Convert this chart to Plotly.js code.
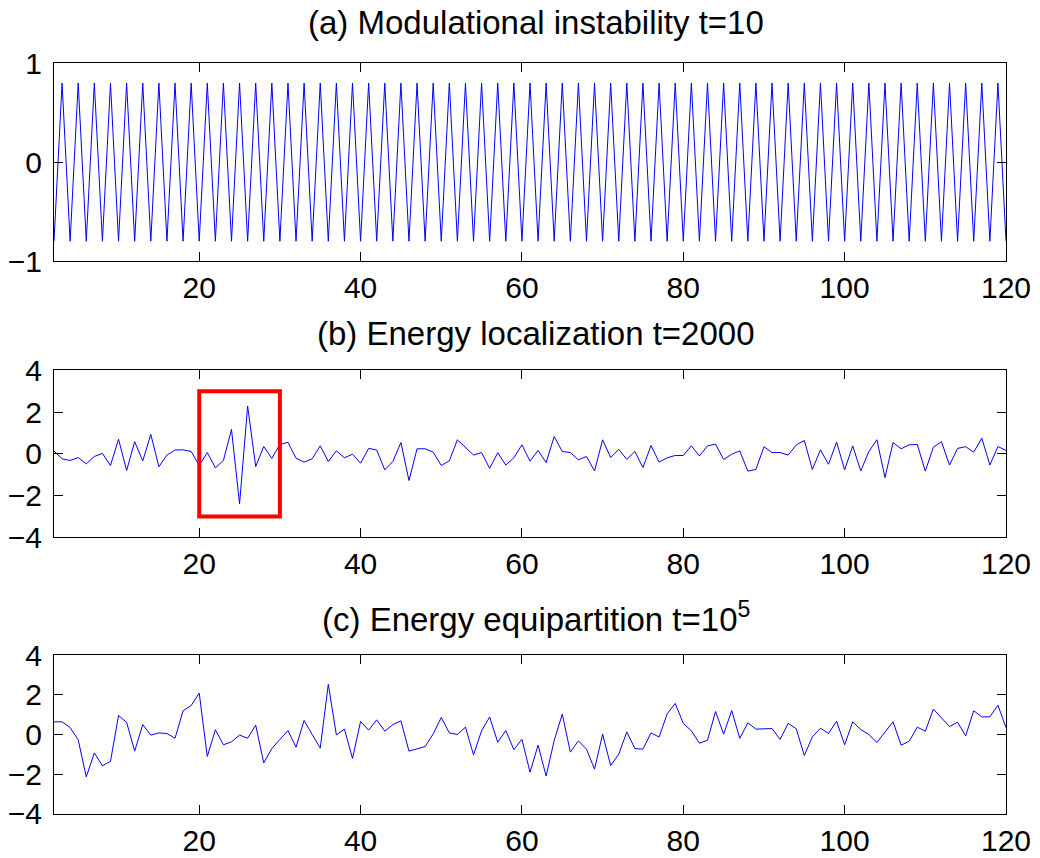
<!DOCTYPE html>
<html>
<head>
<meta charset="utf-8">
<script src="https://cdn.plot.ly/plotly-3.0.1.min.js"></script>
<style>html,body{margin:0;padding:0;background:#fff;}#chart{width:1040px;height:858px;}</style>
</head>
<body>
<div id="chart"></div>
<script>
// lattice site index (first site shown is 2, last is 120)
var sites = [];
for (var n = 2; n <= 120; n++) sites.push(n);

// (a) Modulational instability, t=10
var panelA = [
 -0.8,0.8,-0.8,0.8,-0.8,0.8,-0.8,0.8,-0.8,0.8,
 -0.8,0.8,-0.8,0.8,-0.8,0.8,-0.8,0.8,-0.8,0.8,
 -0.8,0.8,-0.8,0.8,-0.8,0.8,-0.8,0.8,-0.8,0.8,
 -0.8,0.8,-0.8,0.8,-0.8,0.8,-0.8,0.8,-0.8,0.8,
 -0.8,0.8,-0.8,0.8,-0.8,0.8,-0.8,0.8,-0.8,0.8,
 -0.8,0.8,-0.8,0.8,-0.8,0.8,-0.8,0.8,-0.8,0.8,
 -0.8,0.8,-0.8,0.8,-0.8,0.8,-0.8,0.8,-0.8,0.8,
 -0.8,0.8,-0.8,0.8,-0.8,0.8,-0.8,0.8,-0.8,0.8,
 -0.8,0.8,-0.8,0.8,-0.8,0.8,-0.8,0.8,-0.8,0.8,
 -0.8,0.8,-0.8,0.8,-0.8,0.8,-0.8,0.8,-0.8,0.8,
 -0.8,0.8,-0.8,0.8,-0.8,0.8,-0.8,0.8,-0.8,0.8,
 -0.8,0.8,-0.8,0.8,-0.8,0.8,-0.8,0.8,-0.8
];

// (b) Energy localization, t=2000
var panelB = [
 0.13,-0.24,-0.32,-0.18,-0.48,-0.13,0.02,-0.56,0.7,-0.8,
 0.58,-0.34,0.93,-0.62,-0.06,0.18,0.19,0.11,-0.56,0.06,
 -0.67,-0.32,1.17,-2.4,2.29,-0.61,0.35,-0.22,0.45,0.55,
 -0.21,-0.4,-0.24,0.38,-0.37,0.14,-0.19,-0.02,-0.45,0.26,
 0.18,-0.77,-0.37,0.54,-1.28,0.24,0.24,0.08,-0.56,-0.34,
 0.67,0.32,-0.06,0.06,-0.7,0.05,-0.54,-0.19,0.43,-0.35,
 0.16,-0.42,0.83,0.11,0.06,-0.29,-0.13,-0.82,0.67,-0.18,
 0.21,-0.27,0.11,-0.66,0.4,-0.4,-0.19,-0.08,-0.08,0.38,
 -0.1,0.38,0.46,-0.27,-0.02,0.14,-0.83,-0.75,0.34,0.06,
 0.06,-0.06,0.42,0.64,-0.75,0.19,-0.5,0.56,-0.77,0.38,
 -0.82,0.11,0.67,-1.14,0.54,0.24,0.43,0.45,-0.83,0.32,
 0.58,-0.54,0.26,0.34,0.08,0.75,-0.54,0.35,0.16
];

// (c) Energy equipartition, t=10^5
var panelC = [
 0.64,0.64,0.35,-0.27,-2.14,-0.93,-1.58,-1.36,0.96,0.61,
 -0.84,0.5,-0.03,0.08,0.05,-0.19,1.2,1.46,2.09,-1.11,
 0.24,-0.52,-0.37,-0.03,-0.19,0.47,-1.43,-0.71,-0.25,0.2,
 -0.64,0.71,0.0,-0.69,2.54,-0.02,0.27,-1.21,0.66,0.22,
 0.74,0.17,0.5,0.69,-0.84,-0.74,-0.61,0.03,0.86,0.08,
 0.0,0.37,-1.03,0.19,0.88,-0.39,0.2,-0.77,-0.24,-1.9,
 -0.54,-2.1,-0.3,1.03,-0.89,-0.32,-0.74,-1.75,0.02,-1.57,
 -0.99,0.13,-0.71,-0.74,0.08,-0.13,1.04,1.57,0.56,0.19,
 -0.44,-0.29,1.16,0.02,1.21,-0.19,0.59,0.27,0.29,0.3,
 -0.25,0.56,0.29,-1.06,-0.12,0.32,0.05,0.67,-0.52,0.64,
 0.25,0.0,-0.4,0.13,0.64,-0.54,-0.34,0.37,0.17,1.28,
 0.84,0.4,0.62,-0.07,1.2,0.89,0.89,1.48,0.35
];

var xTicks = [20, 40, 60, 80, 100, 120];
var yTicksA = [-1, 0, 1];
var yTicksBC = [-4, -2, 0, 2, 4];
var boxX = [20, 30];
var boxY = [-3, 3];
var titles = [
 "(a) Modulational instability t=10",
 "(b) Energy localization t=2000",
 "(c) Energy equipartition t=10<sup>5</sup>"
];

var H = 858;
function py(p) { return 1 - p / H; }

var FONT = "Liberation Sans, Arial, Helvetica, sans-serif";
var lineStyle = {color: "#0000ff", width: 1};

var traces = [
 {x: sites, y: panelA, xaxis: "x", yaxis: "y", type: "scatter", mode: "lines", line: lineStyle, hoverinfo: "skip"},
 {x: sites, y: panelB, xaxis: "x2", yaxis: "y2", type: "scatter", mode: "lines", line: lineStyle, hoverinfo: "skip"},
 {x: sites, y: panelC, xaxis: "x3", yaxis: "y3", type: "scatter", mode: "lines", line: lineStyle, hoverinfo: "skip"}
];

function xax(anchor) {
 return {
  anchor: anchor, range: [2, 120], tickvals: xTicks, ticks: "inside", ticklen: 9,
  tickcolor: "#000", showline: true, linecolor: "#000", linewidth: 1, mirror: "ticks",
  showgrid: false, zeroline: false, tickfont: {family: FONT, size: 30, color: "#000"},
  ticklabelstandoff: 0
 };
}
function yax(anchor, dom, range, vals) {
 return {
  anchor: anchor, domain: dom, range: range, tickvals: vals, ticks: "inside", ticklen: 9,
  tickcolor: "#000", showline: true, linecolor: "#000", linewidth: 1, mirror: "ticks",
  showgrid: false, zeroline: false, tickfont: {family: FONT, size: 30, color: "#000"},
  ticklabelstandoff: 5
 };
}

var layout = {
 width: 1040, height: 858,
 margin: {l: 54, r: 34, t: 0, b: 0},
 paper_bgcolor: "#fff", plot_bgcolor: "#fff",
 showlegend: false,
 xaxis: xax("y"),
 yaxis: yax("x", [py(261), py(63.3)], [-1, 1], yTicksA),
 xaxis2: xax("y2"),
 yaxis2: yax("x2", [py(537.3), py(370.3)], [-4, 4], yTicksBC),
 xaxis3: xax("y3"),
 yaxis3: yax("x3", [py(813.7), py(655.3)], [-4, 4], yTicksBC),
 shapes: [{
  type: "rect", xref: "x2", yref: "y2",
  x0: boxX[0], x1: boxX[1], y0: boxY[0], y1: boxY[1],
  line: {color: "#ff0000", width: 4}
 }],
 annotations: [
  {text: titles[0], xref: "paper", yref: "paper", x: 0.506, y: py(22), xanchor: "center", yanchor: "middle", showarrow: false, font: {family: FONT, size: 33, color: "#000"}},
  {text: titles[1], xref: "paper", yref: "paper", x: 0.506, y: py(333), xanchor: "center", yanchor: "middle", showarrow: false, font: {family: FONT, size: 33, color: "#000"}},
  {text: titles[2], xref: "paper", yref: "paper", x: 0.506, y: py(617), xanchor: "center", yanchor: "middle", showarrow: false, font: {family: FONT, size: 33, color: "#000"}}
 ]
};

Plotly.newPlot("chart", traces, layout, {displayModeBar: false, staticPlot: true});
</script>
</body>
</html>
